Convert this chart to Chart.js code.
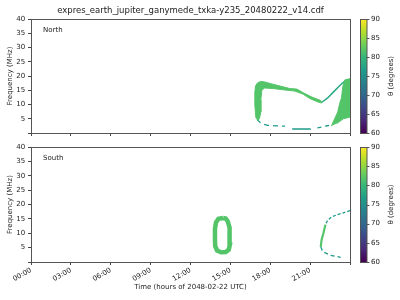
<!DOCTYPE html>
<html>
<head>
<meta charset="UTF-8">
<title>expres ganymede</title>
<script src="https://cdn.jsdelivr.net/npm/chart.js@4.4.0/dist/chart.umd.min.js"></script>
<style>
  body { margin: 0; background: #fff; }
  #wrap { position: relative; width: 400px; height: 300px; }
  canvas { position: absolute; left: 0; }
</style>
</head>
<body>
<div id="wrap">
  <canvas id="north" width="400" height="140" style="top:0"></canvas>
  <canvas id="south" width="400" height="160" style="top:140px"></canvas>
</div>
<script>
// tick labels
const hourTicks = ['00:00', '03:00', '06:00', '09:00', '12:00', '15:00', '18:00', '21:00'];
const thetaTicks = [60, 65, 70, 75, 80, 85, 90];

// North: [hour, MHz]
const northBand = [[16.92,5.3],[16.84,9.8],[16.84,14.4],[16.9,16.6],[17.05,17.6],[17.29,18.1],[17.59,17.9],[18.12,17.2],[18.72,16.5],[19.47,15.6],[20.0,15.4],[20.53,14.0],[21.13,12.6],[21.58,11.8],[21.8,11.4],
                   [21.88,10.5],[21.58,10.9],[20.98,12.1],[20.45,13.7],[19.85,14.7],[19.1,15.1],[18.2,15.6],[17.59,15.8],[17.37,15.1],[17.29,11.6],[17.29,7.4],[17.2,5.3],[17.07,4.2]];
const northDiagonal = [[21.85,10.7],[22.3,12.2],[22.8,14.6],[23.2,16.5],[23.5,17.8],[23.8,18.7],[24,18.8]];
const northFill = [[22.6,2.5],[23.08,7.4],[23.23,10.5],[23.36,12.3],[23.46,16.3],[23.6,18.6],[24,19.0],[24,5.6],[23.5,5.0],[23.0,3.3]];
const northBottomLeft = [[17.0,4.8],[17.3,3.4],[17.8,2.7],[18.4,2.5],[19.1,2.4]];
const northFloor = [[19.65,1.4],[21.05,1.4]];
const northBottomRight = [[21.55,1.8],[22.0,2.2],[22.5,2.8]];

// South: [hour, MHz]
const southOval = [[14.45,15.3],[14.1,15.0],[13.92,13.8],[13.84,11.5],[13.84,8],[13.86,5.5],[14.0,4.0],[14.3,3.4],[14.65,3.5],[14.88,4.3],[14.96,6],[14.96,9],[14.92,12],[14.8,14.2],[14.65,15.1],[14.45,15.3]];
const southTop = [[24,17.9],[23.5,17.1],[23.0,16.4],[22.6,15.6],[22.33,14.6],[22.15,13]];
const southMid = [[22.15,13],[22.0,10],[21.86,7.7],[21.8,5.3]];
const southBottom = [[21.8,5.3],[21.95,3.6],[22.48,2.4],[23.0,1.9],[23.3,1.6]];

const green = '#53c568';
const teal = '#1f9a8a';

Chart.defaults.font.family = 'DejaVu Sans';
Chart.defaults.color = '#222';

function seg(points, color, width, dash, fill) {
    return {
        data: points.map(p => ({ x: p[0], y: p[1] })),
        showLine: true,
        borderColor: color,
        backgroundColor: color,
        borderWidth: width,
        borderDash: dash || [],
        pointRadius: 0,
        fill: fill ? 'shape' : false
    };
}

const viridis = ['#440154', '#482878', '#3e4989', '#31688e', '#26828e', '#1f9e89', '#35b779', '#6ece58', '#b5de2b', '#fde725'];

const panelPlugin = {
    id: 'panel',
    afterDraw(chart, args, opts) {
        const ctx = chart.ctx;
        const a = chart.chartArea;
        ctx.save();
        // frame
        ctx.strokeStyle = '#555';
        ctx.lineWidth = 1;
        ctx.strokeRect(Math.round(a.left) + 0.5, Math.round(a.top) + 0.5, Math.round(a.right - a.left), Math.round(a.bottom - a.top));
        // panel label
        ctx.fillStyle = '#222';
        ctx.font = '7px "DejaVu Sans"';
        ctx.textBaseline = 'middle';
        ctx.fillText(opts.label, a.left + 12, a.top + 11);
        // colorbar
        const cb = chart.scales.cb;
        const x0 = a.right + 10.5, w = 6.5;
        const top = cb.getPixelForValue(90), bot = cb.getPixelForValue(60);
        const g = ctx.createLinearGradient(0, bot, 0, top);
        viridis.forEach((c, i) => g.addColorStop(i / (viridis.length - 1), c));
        ctx.fillStyle = g;
        ctx.fillRect(x0, top, w, bot - top);
        ctx.strokeStyle = '#555';
        ctx.strokeRect(x0, Math.round(top) + 0.5, w, Math.round(bot - top));
        ctx.beginPath();
        thetaTicks.forEach(t => {
            const y = Math.round(cb.getPixelForValue(t)) + 0.5;
            ctx.moveTo(x0 + w, y);
            ctx.lineTo(x0 + w + 2.5, y);
        });
        ctx.stroke();
        // colorbar label
        ctx.translate(391, (top + bot) / 2);
        ctx.rotate(-Math.PI / 2);
        ctx.textAlign = 'center';
        ctx.fillStyle = '#222';
        ctx.fillText('\u03b8 (degrees)', 0, 0);
        ctx.restore();
    }
};

function makePanel(id, label, datasets, bottom) {
    return new Chart(document.getElementById(id), {
        type: 'scatter',
        data: { datasets: datasets },
        plugins: [panelPlugin],
        options: {
            responsive: false,
            animation: false,
            layout: { padding: 0 },
            plugins: {
                legend: { display: false },
                tooltip: { enabled: false },
                title: {
                    display: !bottom,
                    text: 'expres_earth_jupiter_ganymede_txka-y235_20480222_v14.cdf',
                    fullSize: false,
                    font: { size: 8.5, weight: 'normal' },
                    color: '#222',
                    padding: { top: 5.5, bottom: 3.3 }
                },
                panel: { label: label }
            },
            scales: {
                x: {
                    type: 'linear',
                    min: 0,
                    max: 24,
                    grid: { drawOnChartArea: false, tickLength: 3, color: '#444' },
                    border: { display: false },
                    ticks: {
                        display: bottom,
                        stepSize: 3,
                        autoSkip: false,
                        minRotation: 30,
                        maxRotation: 30,
                        padding: 1,
                        font: { size: 7 },
                        callback: v => hourTicks[v / 3] !== undefined ? hourTicks[v / 3] : ''
                    },
                    title: {
                        display: bottom,
                        text: 'Time (hours of 2048-02-22 UTC)',
                        font: { size: 7 },
                        padding: { top: 0, bottom: 9 }
                    },
                    afterFit: s => { s.height = bottom ? 38 : 7; }
                },
                y: {
                    min: 0,
                    max: 40,
                    grid: { drawOnChartArea: false, tickLength: 3, color: '#444' },
                    border: { display: false },
                    ticks: {
                        stepSize: 5,
                        autoSkip: false,
                        padding: 2.8,
                        font: { size: 7 },
                        callback: v => v === 0 ? '' : v
                    },
                    title: {
                        display: true,
                        text: 'Frequency (MHz)',
                        font: { size: 7 },
                        padding: { top: 6, bottom: 0 }
                    },
                    afterFit: s => { s.width = 31; }
                },
                cb: {
                    display: true,
                    position: 'right',
                    min: 60,
                    max: 90,
                    grid: { drawOnChartArea: false, drawTicks: true, tickLength: 19, color: 'rgba(0,0,0,0)' },
                    border: { display: false },
                    ticks: { stepSize: 5, autoSkip: false, padding: 2, font: { size: 7 } },
                    afterFit: s => { s.width = 50; }
                }
            }
        }
    });
}

makePanel('north', 'North', [
    seg(northBand, green, 1, null, true),
    seg(northFill, green, 1, null, true),
    seg(northDiagonal, '#2aa884', 1.5),
    seg(northBottomLeft, teal, 1.3, [5, 4]),
    seg(northFloor, teal, 1.5),
    seg(northBottomRight, teal, 1.3, [4, 4])
], false);

makePanel('south', 'South', [
    seg(southOval, green, 4.5),
    seg(southTop, teal, 1.3, [3, 2]),
    seg(southMid, green, 2.2),
    seg(southBottom, teal, 1.3, [4, 3])
], true);
</script>
</body>
</html>
